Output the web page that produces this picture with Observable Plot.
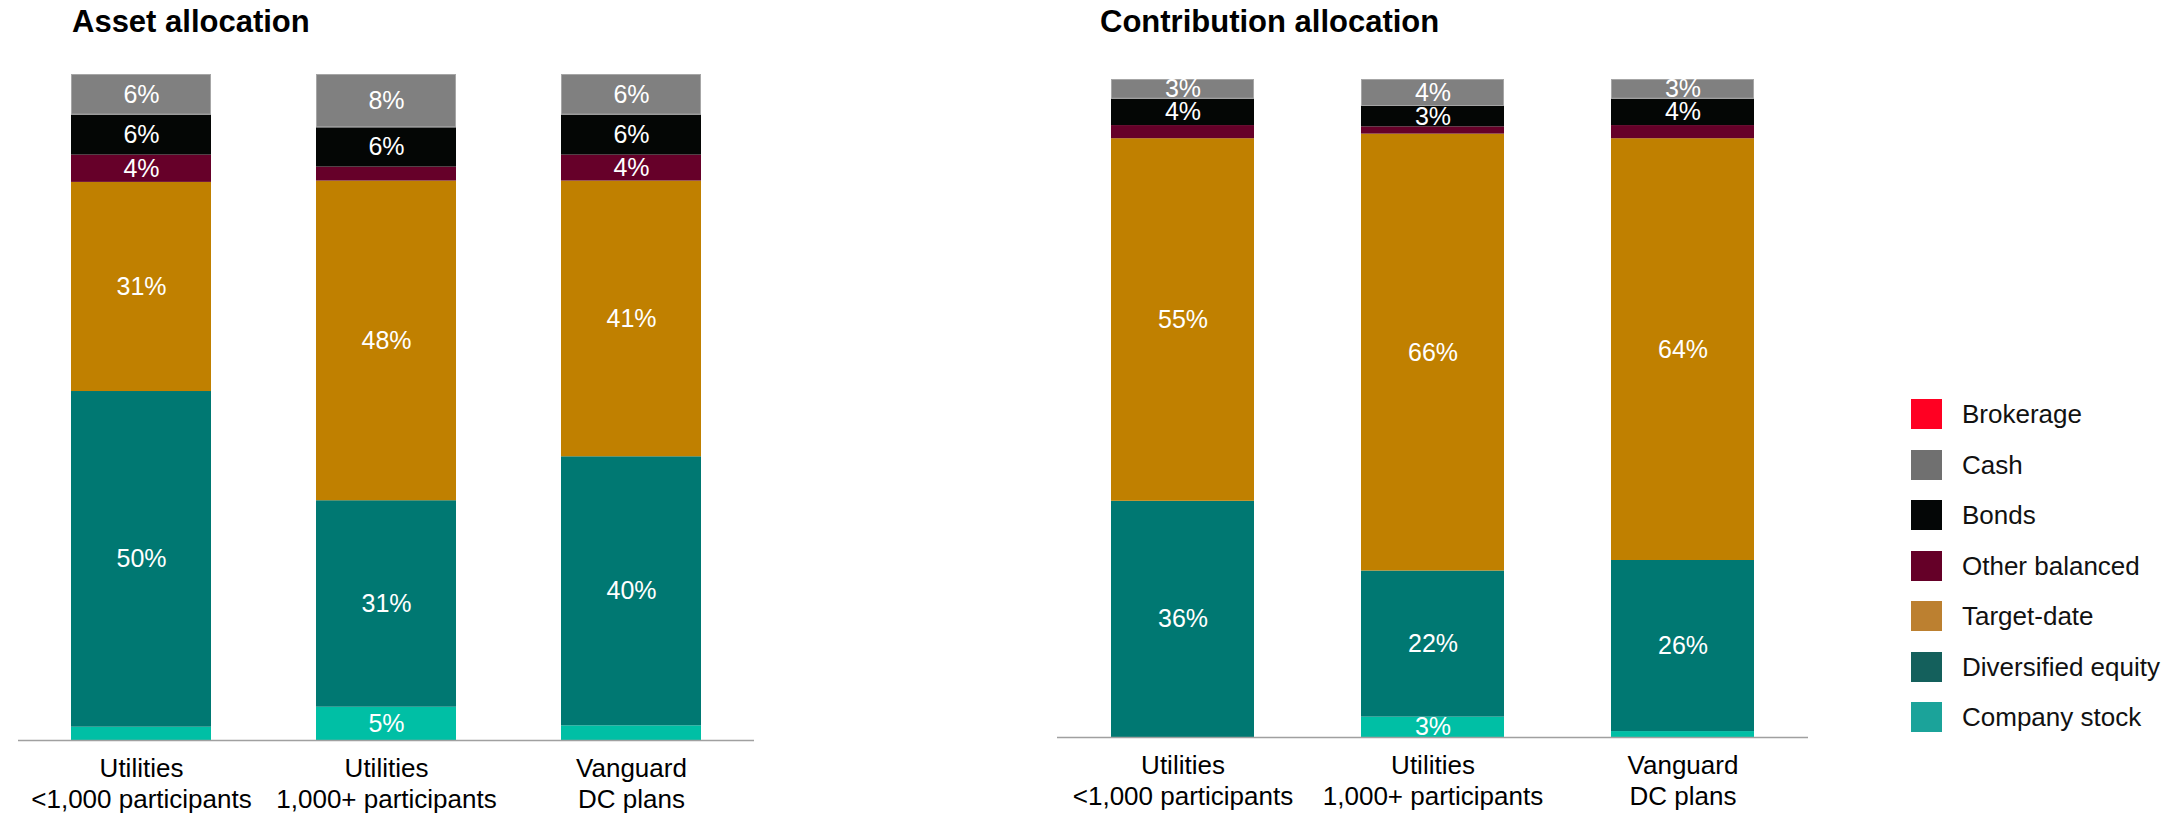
<!DOCTYPE html>
<html>
<head>
<meta charset="utf-8">
<script src="https://cdn.jsdelivr.net/npm/d3@7"></script>
<script src="https://cdn.jsdelivr.net/npm/@observablehq/plot@0.6"></script>
<style>
  html, body { margin: 0; padding: 0; background: #fff; }
  #root { position: relative; width: 2169px; height: 817px; overflow: hidden;
          font-family: "Liberation Sans", Arial, Helvetica, sans-serif; }
  .title { position: absolute; top: 6px; font-size: 31px; font-weight: bold; line-height: 1; color: #000; white-space: nowrap; }
  .chart { position: absolute; top: 44px; }
  #legend { position: absolute; left: 1911px; top: 399px; }
  .item { display: flex; align-items: flex-start; height: 50.5px; }
  .sw { width: 31px; height: 30px; flex: none; }
  .lab { margin-left: 20px; font-size: 26px; line-height: 30px; color: #111; white-space: nowrap; }
</style>
</head>
<body>
<div id="root">
  <div class="title" style="left:72px">Asset allocation</div>
  <div class="title" style="left:1100px">Contribution allocation</div>
  <div class="chart" id="asset" style="left:0px"></div>
  <div class="chart" id="contrib" style="left:1040px"></div>
  <div id="legend"></div>
</div>
<script>
// ---- Data ----
const groups = ["Utilities <1,000", "Utilities 1,000+", "Vanguard DC plans"];
const tickLabels = ["Utilities\n<1,000 participants", "Utilities\n1,000+ participants", "Vanguard\nDC plans"];

// stacking order, bottom to top
const classes = ["Company stock", "Diversified equity", "Target-date", "Other balanced", "Bonds", "Cash", "Brokerage"];
const barColors = ["#00BFA5", "#007872", "#C08000", "#660029", "#040605", "#808080", "#FF0020"];

// legend order (top to bottom) and its swatch colours
const legendClasses = ["Brokerage", "Cash", "Bonds", "Other balanced", "Target-date", "Diversified equity", "Company stock"];
const legendColors = ["#FF0022", "#707070", "#040606", "#650028", "#BC8030", "#14605C", "#1BA39A"];

// Asset allocation (%), one value per group
const assetCompanyStock = [2.0, 5.0, 2.2];
const assetDivEquity    = [50.4, 31.0, 40.4];
const assetTargetDate   = [31.4, 48.0, 41.4];
const assetOtherBal     = [4.1, 2.1, 3.9];
const assetBonds        = [6.0, 5.9, 6.0];
const assetCash         = [6.1, 8.0, 6.1];
const assetBrokerage    = [0, 0, 0];

// Contribution allocation (%)
const contCompanyStock = [0, 3.1, 0.9];
const contDivEquity    = [35.9, 22.2, 26.0];
const contTargetDate   = [55.1, 66.4, 64.1];
const contOtherBal     = [2.0, 1.1, 2.0];
const contBonds        = [4.0, 3.1, 4.0];
const contCash         = [3.0, 4.1, 3.0];
const contBrokerage    = [0, 0, 0];

function rowsFrom(series) {
  const rows = [];
  groups.forEach((g, i) => {
    classes.forEach((c, k) => rows.push({group: g, cls: c, value: series[k][i]}));
  });
  return rows;
}

const assetRows = rowsFrom([assetCompanyStock, assetDivEquity, assetTargetDate, assetOtherBal, assetBonds, assetCash, assetBrokerage]);
const contRows = rowsFrom([contCompanyStock, contDivEquity, contTargetDate, contOtherBal, contBonds, contCash, contBrokerage]);

const tickMap = Object.fromEntries(groups.map((g, i) => [g, tickLabels[i]]));

function makeChart(rows, o) {
  return Plot.plot({
    width: o.width, height: 773,
    marginTop: o.marginTop, marginBottom: o.marginBottom,
    marginLeft: o.marginLeft, marginRight: o.marginRight,
    style: {fontFamily: "'Liberation Sans', Arial, Helvetica, sans-serif", background: "transparent", overflow: "visible"},
    x: {domain: groups, paddingInner: o.paddingInner, paddingOuter: o.paddingOuter, label: null},
    y: {domain: [0, 100], axis: null},
    color: {domain: classes, range: barColors},
    marks: [
      Plot.barY(rows, {x: "group", y: "value", fill: "cls", z: "cls", order: classes}),
      Plot.barY(rows, {x: "group", y: "value", z: "cls", order: classes, fill: "none",
        stroke: "#a6a6a6", strokeWidth: 1, inset: 0.5,
        strokeOpacity: d => d.cls === "Cash" && d.value > 0 ? 1 : 0}),
      Plot.ruleY([0], {stroke: "#a0a0a0", strokeWidth: 1.4}),
      Plot.text(rows, Plot.stackY({x: "group", y: "value", z: "cls", order: classes,
        text: d => d.value >= 2.5 ? Math.round(d.value) + "%" : null,
        fill: "white", fontSize: 25})),
      Plot.axisX({tickSize: 0, tickPadding: 15, fontSize: 26, lineHeight: 1.18, fill: "#000",
        tickFormat: d => tickMap[d], label: null, textOverflow: null})
    ]
  });
}

document.getElementById("asset").append(makeChart(assetRows, {
  width: 760, marginTop: 30, marginBottom: 77, marginLeft: 18, marginRight: 6,
  paddingInner: 0.4286, paddingOuter: 0.216
}));
document.getElementById("contrib").append(makeChart(contRows, {
  width: 780, marginTop: 35, marginBottom: 80, marginLeft: 17, marginRight: 12,
  paddingInner: 0.428, paddingOuter: 0.216
}));

const legend = document.getElementById("legend");
legendClasses.forEach((c, i) => {
  const item = document.createElement("div");
  item.className = "item";
  const sw = document.createElement("div");
  sw.className = "sw";
  sw.style.background = legendColors[i];
  const lab = document.createElement("div");
  lab.className = "lab";
  lab.textContent = c;
  item.append(sw, lab);
  legend.append(item);
});
</script>
</body>
</html>
